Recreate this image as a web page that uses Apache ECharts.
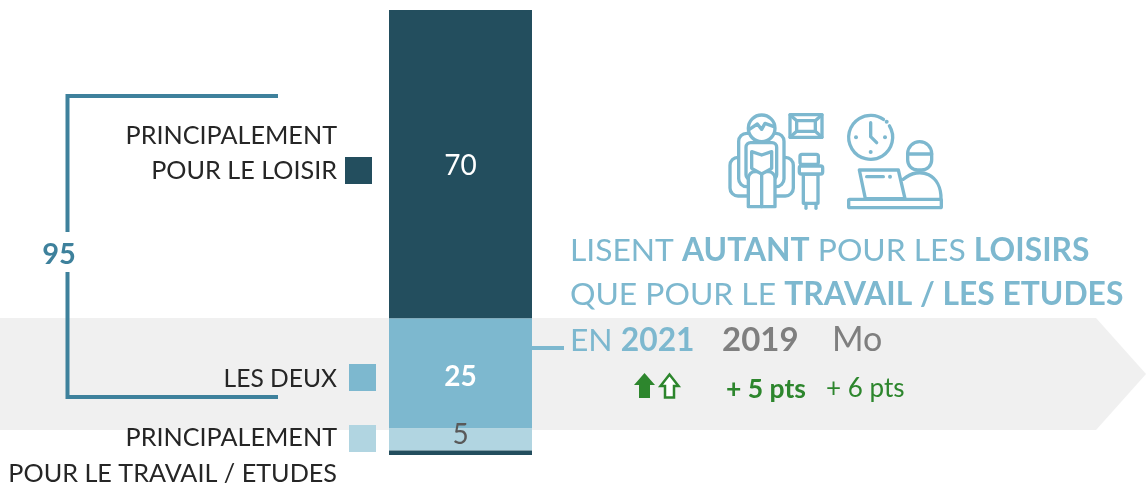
<!DOCTYPE html>
<html>
<head>
<meta charset="utf-8">
<style>
  html, body { margin: 0; padding: 0; background: #fff; }
  #chart { width: 1146px; height: 485px; }
</style>
</head>
<body>
<div id="chart"></div>
<script src="https://cdn.jsdelivr.net/npm/echarts@6/dist/echarts.min.js"></script>
<script>
// valeurs
var categories = ["2021"];
var segmentNames = ["Principalement pour le loisir", "Les deux", "Principalement pour le travail / etudes", "Bord"];
var segmentValues = [70, 25, 5, 1];
var segmentColors = ["#234e5e", "#7db8cf", "#b1d5e1", "#234e5e"];
var total = "95";
var legendLines = ["PRINCIPALEMENT", "POUR LE LOISIR", "LES DEUX", "PRINCIPALEMENT", "POUR LE TRAVAIL / ETUDES"];
var deltas = ["+ 5 pts", "+ 6 pts"];

var FONT = "Lato";
var BLUE = "#7db8cf";
var TEAL = "#3e819c";
var GREEN = "#2d862d";
var GREY = "#7f7f7f";
var TXT = "#262626";

var myChart = echarts.init(document.getElementById("chart"), null, { renderer: "canvas" });

var series = segmentValues.map(function (v, i) {
  var label = { show: false };
  if (i < 3) {
    label = {
      show: true,
      position: "inside",
      formatter: "{c}",
      fontFamily: FONT,
      fontSize: 28,
      fontWeight: i === 1 ? "bold" : "normal",
      color: i === 2 ? "#595959" : "#fff",
      offset: i === 2 ? [0, -5] : (i === 0 ? [0, 2] : [0, 3])
    };
  }
  return {
    type: "bar",
    name: segmentNames[i],
    stack: "total",
    barWidth: "100%",
    z: 5,
    itemStyle: { color: segmentColors[i] },
    label: label,
    data: [v]
  };
});

// textes places a la main
function txt(x, y, text, color, size, weight, align) {
  return {
    type: "text", x: x, y: y, z: 10,
    style: {
      text: text, fill: color, fontFamily: FONT, fontSize: size,
      fontWeight: weight || "normal", align: align || "left", verticalAlign: "middle"
    }
  };
}
function richTxt(x, y, text) {
  return {
    type: "text", x: x, y: y, z: 10,
    style: {
      text: text, fill: BLUE, fontFamily: FONT, fontSize: 31.8, verticalAlign: "middle",
      rich: { b: { fontFamily: FONT, fontSize: 31.8, fontWeight: "bold", fill: BLUE }, n: { fontFamily: FONT, fontSize: 31.8, fill: BLUE } }
    }
  };
}
function square(x, y, color) {
  return { type: "rect", z: 10, shape: { x: x, y: y, width: 27, height: 27 }, style: { fill: color } };
}

// icones, en coordonnees agrandies x3
var iconStroke = { stroke: BLUE, lineWidth: 10, fill: "#fff", lineJoin: "round", lineCap: "round" };
var iconLine = { stroke: BLUE, lineWidth: 10, fill: null, lineJoin: "round", lineCap: "round" };
function irect(x, y, w, h, r) { return { type: "rect", shape: { x: x, y: y, width: w, height: h, r: r || 0 }, style: iconStroke }; }
function iline(pts) { return { type: "polyline", shape: { points: pts }, style: iconLine }; }
function idot(x, y) { return { type: "circle", shape: { cx: x, cy: y, r: 6 }, style: { fill: BLUE } }; }

var icons = {
  type: "group", x: 720, y: 100, scaleX: 1 / 3, scaleY: 1 / 3, z: 10,
  children: [
    // cadre
    irect(210, 44, 96, 68, 3), irect(230, 62, 56, 32, 0),
    iline([[210, 44], [230, 62]]), iline([[306, 44], [286, 62]]),
    iline([[210, 112], [230, 94]]), iline([[306, 112], [286, 94]]),
    // fauteuil
    irect(30, 172, 190, 116, 24), irect(56, 100, 136, 160, 24),
    irect(78, 128, 92, 110, 14),
    irect(85, 215, 40, 105, [20, 0, 0, 0]), irect(125, 215, 40, 105, [0, 20, 0, 0]),
    { type: "polygon", shape: { points: [[95, 155], [125, 165], [155, 155], [155, 205], [125, 222], [95, 205]] }, style: iconStroke },
    { type: "circle", shape: { cx: 125, cy: 85, r: 40 }, style: iconStroke },
    iline([[88, 88], [112, 72], [125, 88], [135, 70], [162, 80]]),
    // petite table
    irect(240, 163, 55, 30, 6), irect(250, 222, 44, 88, 0), irect(238, 198, 70, 24, 6),
    iline([[258, 310], [258, 325]]), iline([[288, 310], [288, 325]]),
    // horloge
    { type: "arc", shape: { cx: 452, cy: 112, r: 66, startAngle: -0.55, endAngle: -0.95 + Math.PI * 2, clockwise: true }, style: iconLine },
    iline([[452, 68], [452, 110], [470, 128]]),
    idot(408, 112), idot(495, 112), idot(452, 156), idot(500, 65),
    // personne
    { type: "bezierCurve", shape: { x1: 550, y1: 238, cpx1: 600, cpy1: 195, cpx2: 665, cpy2: 225, x2: 663, y2: 298 }, style: iconLine },
    irect(563, 125, 72, 85, [36, 36, 30, 30]),
    iline([[563, 162], [635, 162]]),
    { type: "polygon", shape: { points: [[418, 210], [535, 210], [555, 296], [436, 296]] }, style: iconStroke },
    iline([[440, 230], [490, 230]]), idot(510, 230),
    irect(386, 298, 278, 25, 3)
  ]
};

var option = {
  animation: false,
  backgroundColor: "#fff",
  grid: { left: 389, top: 10, width: 143, height: 445 },
  xAxis: { type: "category", data: categories, show: false },
  yAxis: { type: "value", inverse: true, min: 0, max: 101, show: false },
  series: series,
  graphic: {
    elements: [
      // bandeau gris
      { type: "polygon", z: 0, shape: { points: [[0, 318], [1096, 318], [1146, 374], [1096, 430], [0, 430]] }, style: { fill: "#f0f0f0" } },
      // accolade 95
      { type: "polyline", z: 10, shape: { points: [[278, 96], [67.5, 96], [67.5, 232]] }, style: { stroke: TEAL, lineWidth: 4, fill: null } },
      { type: "polyline", z: 10, shape: { points: [[67.5, 272], [67.5, 397], [278, 397]] }, style: { stroke: TEAL, lineWidth: 4, fill: null } },
      txt(59, 255, total, TEAL, 29, "bold", "center"),
      // legende
      txt(337, 136, legendLines[0], TXT, 25.2, "normal", "right"),
      txt(337, 171, legendLines[1], TXT, 25.2, "normal", "right"),
      txt(337, 379, legendLines[2], TXT, 24.6, "normal", "right"),
      txt(337, 438, legendLines[3], TXT, 25.2, "normal", "right"),
      txt(337, 474, legendLines[4], TXT, 25.2, "normal", "right"),
      square(345, 157, segmentColors[0]),
      square(349, 364, segmentColors[1]),
      square(349, 425, segmentColors[2]),
      // liaison barre / texte
      { type: "line", z: 10, shape: { x1: 532, y1: 348, x2: 564, y2: 348 }, style: { stroke: BLUE, lineWidth: 4 } },
      // titre
      richTxt(570, 251, "{n|LISENT }{b|AUTANT}{n| POUR LES }{b|LOISIRS}"),
      richTxt(570, 295, "{n|QUE POUR LE }{b|TRAVAIL / LES ETUDES}"),
      richTxt(570, 341, "{n|EN }{b|2021}"),
      txt(722, 340, "2019", GREY, 33, "bold"),
      txt(832, 340, "Mo", GREY, 34),
      // fleches
      { type: "polygon", z: 10, shape: { points: [[634, 385], [644.5, 373], [655, 385], [650, 385], [650, 398], [639, 398], [639, 385]] }, style: { fill: GREEN } },
      { type: "polygon", z: 10, shape: { points: [[660.5, 386], [669.5, 374.5], [678.5, 386], [674, 386], [674, 397.5], [665, 397.5], [665, 386]] }, style: { fill: "#fff", stroke: GREEN, lineWidth: 2.5 } },
      txt(726, 389, deltas[0], GREEN, 26.5, "bold"),
      txt(826, 389, deltas[1], GREEN, 26),
      icons
    ]
  }
};

myChart.setOption(option);
</script>
</body>
</html>
